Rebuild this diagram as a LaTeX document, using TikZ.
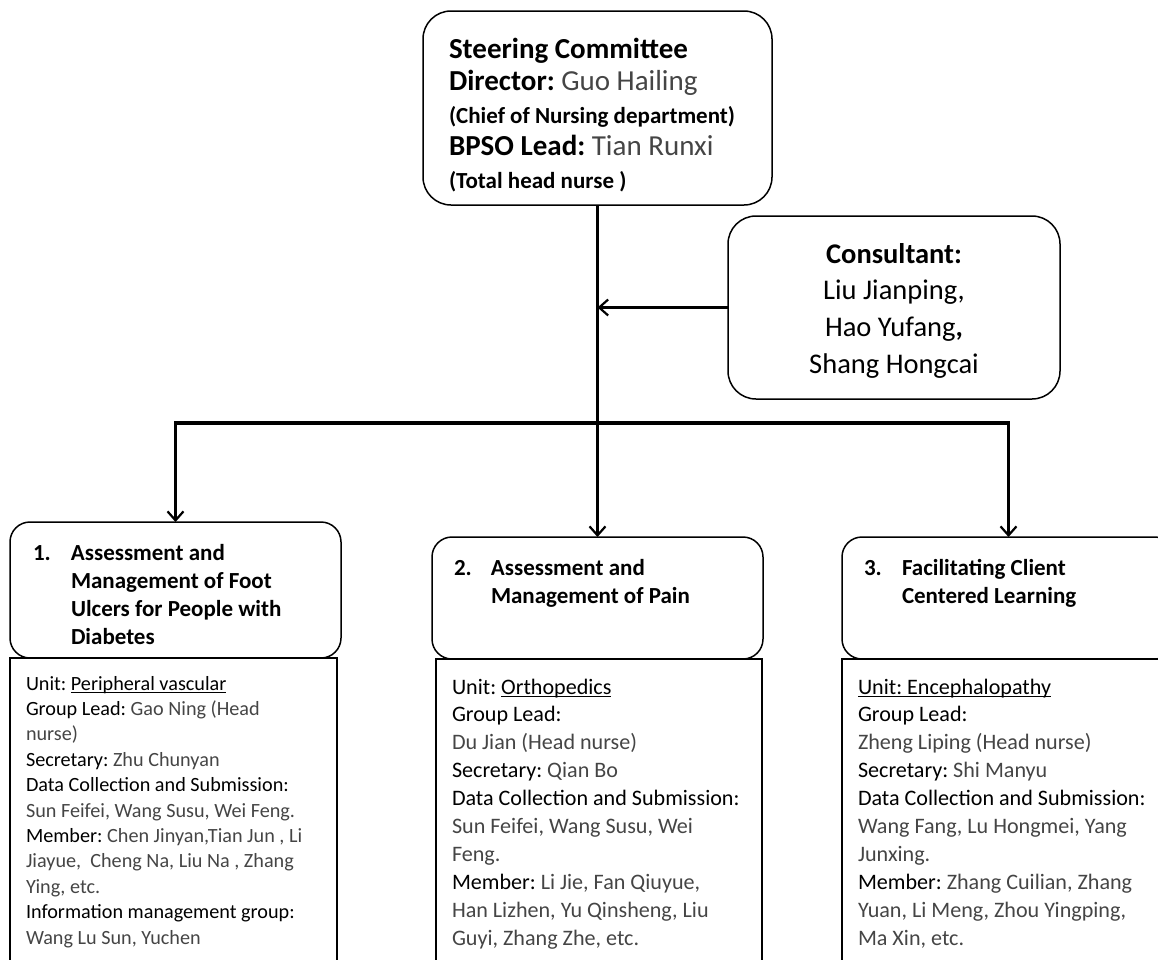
\documentclass[tikz,border=0pt]{standalone}
\usepackage{fontspec}
\setmainfont{Carlito}
\usetikzlibrary{arrows.meta}
\definecolor{namec}{gray}{0.27}
\newcommand\myul[1]{\setbox0=\hbox{#1}\rlap{\rule[-2.6pt]{\wd0}{0.9pt}}\box0}
\newcommand\nm[1]{\textcolor{namec}{#1}}
\frenchspacing
\tikzset{
  rbox/.style={draw, line width=1.5pt, rounded corners=20pt, inner sep=0pt, outer sep=0pt},
  sbox/.style={draw, line width=1.2pt, inner sep=0pt, outer sep=0pt},
  txt/.style={inner sep=0pt, outer sep=0pt, anchor=base west},
  conn/.style={line width=2.8pt, -{Straight Barb[length=9pt,width=16pt,line width=2.2pt]}},
  bus/.style={line width=3.4pt, -{Straight Barb[length=9pt,width=16pt,line width=2.2pt]}},
}
\begin{document}
\begin{tikzpicture}[x=1pt,y=-1pt]
\clip (0,0) rectangle (1158,959);
\useasboundingbox (0,0) rectangle (1158,959);
% boxes
\node[rbox, rounded corners=28pt, minimum width=349pt, minimum height=194pt] (steer) at (597.5,108) {};
\node[rbox, rounded corners=28pt, minimum width=332pt, minimum height=183pt] (cons) at (894,307.5) {};
\node[rbox, minimum width=331pt, minimum height=136pt] (g1) at (175.5,590) {};
\node[rbox, minimum width=331pt, minimum height=122pt] (g2) at (597.5,598) {};
\node[rbox, minimum width=333pt, minimum height=122pt] (g3) at (1008.5,598) {};
\node[sbox, minimum width=327pt, minimum height=317pt] (d1) at (173.5,816.5) {};
\node[sbox, minimum width=326pt, minimum height=316pt] (d2) at (599,817) {};
\node[sbox, minimum width=333pt, minimum height=316pt] (d3) at (1008.5,817) {};
% connectors
\coordinate (busc) at (597.5,423);
\draw[conn] (steer.south) -- (g2.north);
\draw[conn] (cons.west) -- (cons.west -| steer.south);
\draw[bus] (busc) -| (g1.north);
\draw[bus] (busc) -| (g3.north);
% texts
\node[txt] (steert) at (449,58) {\vtop{\lineskiplimit=-100pt\baselineskip=32.5pt
  \hbox{\fontsize{29}{32}\selectfont\bfseries Steering Committee}
  \hbox{\fontsize{29}{32}\selectfont\textbf{Director:} \nm{Guo Hailing}}
  \hbox{\fontsize{23}{32}\selectfont\bfseries (Chief of Nursing department)}
  \hbox{\fontsize{29}{32}\selectfont\textbf{BPSO Lead:} \nm{Tian Runxi}}
  \hbox{\fontsize{23}{32}\selectfont\bfseries (Total head nurse )}}};
\node[inner sep=0pt, anchor=base] (const) at (894,263) {\fontsize{28.5}{36}\selectfont\vtop{\hsize=320pt\lineskiplimit=-100pt\baselineskip=36.7pt
  \hbox to\hsize{\hfil\textbf{Consultant:}\hfil}
  \hbox to\hsize{\hfil Liu Jianping,\hfil}
  \hbox to\hsize{\hfil Hao Yufang\textbf{,}\hfil}
  \hbox to\hsize{\hfil Shang Hongcai\hfil}}};
% group titles
\node[txt] (g1t) at (33,560) {\fontsize{23}{28}\selectfont\bfseries\vtop{\lineskiplimit=-100pt\baselineskip=28pt
  \hbox{\hbox to 38pt{1.\hfil}Assessment and}
  \hbox{\hskip38pt Management of Foot}
  \hbox{\hskip38pt Ulcers for People with}
  \hbox{\hskip38pt Diabetes}}};
\node[txt] (g2t) at (454,575) {\fontsize{23}{28}\selectfont\bfseries\vtop{\lineskiplimit=-100pt\baselineskip=28pt
  \hbox{\hbox to 37pt{2.\hfil}Assessment and}
  \hbox{\hskip37pt Management of Pain}}};
\node[txt] (g3t) at (864,575) {\fontsize{23}{28}\selectfont\bfseries\vtop{\lineskiplimit=-100pt\baselineskip=28pt
  \hbox{\hbox to 38pt{3.\hfil}Facilitating Client}
  \hbox{\hskip38pt Centered Learning}}};
% details
\node[txt] (d1t) at (26,690) {\fontsize{20.2}{25}\selectfont\vtop{\lineskiplimit=-100pt\baselineskip=25.4pt
  \hbox{Unit: \myul{Peripheral vascular}}
  \hbox{Group Lead: \nm{Gao Ning (Head}}
  \hbox{\nm{nurse)}}
  \hbox{Secretary: \nm{Zhu Chunyan}}
  \hbox{Data Collection and Submission:}
  \hbox{\nm{Sun Feifei, Wang Susu, Wei Feng.}}
  \hbox{Member: \nm{Chen Jinyan,Tian Jun , Li}}
  \hbox{\nm{Jiayue,\ \ Cheng Na, Liu Na , Zhang}}
  \hbox{\nm{Ying, etc.}}
  \hbox{Information management group:}
  \hbox{\nm{Wang Lu Sun, Yuchen}}}};
\node[txt] (d2t) at (452,694) {\fontsize{22.1}{28}\selectfont\vtop{\lineskiplimit=-100pt\baselineskip=27.9pt
  \hbox{Unit: \myul{Orthopedics}}
  \hbox{Group Lead:}
  \hbox{\nm{Du Jian (Head nurse)}}
  \hbox{Secretary: \nm{Qian Bo}}
  \hbox{Data Collection and Submission:}
  \hbox{\nm{Sun Feifei, Wang Susu, Wei}}
  \hbox{\nm{Feng.}}
  \hbox{Member: \nm{Li Jie, Fan Qiuyue,}}
  \hbox{\nm{Han Lizhen, Yu Qinsheng, Liu}}
  \hbox{\nm{Guyi, Zhang Zhe, etc.}}}};
\node[txt] (d3t) at (858,694) {\fontsize{22.1}{28}\selectfont\vtop{\lineskiplimit=-100pt\baselineskip=27.9pt
  \hbox{\myul{Unit: Encephalopathy}}
  \hbox{Group Lead:}
  \hbox{\nm{Zheng Liping (Head nurse)}}
  \hbox{Secretary: \nm{Shi Manyu}}
  \hbox{Data Collection and Submission:}
  \hbox{\nm{Wang Fang, Lu Hongmei, Yang}}
  \hbox{\nm{Junxing.}}
  \hbox{Member: \nm{Zhang Cuilian, Zhang}}
  \hbox{\nm{Yuan, Li Meng, Zhou Yingping,}}
  \hbox{\nm{Ma Xin, etc.}}}};
\end{tikzpicture}
\end{document}
